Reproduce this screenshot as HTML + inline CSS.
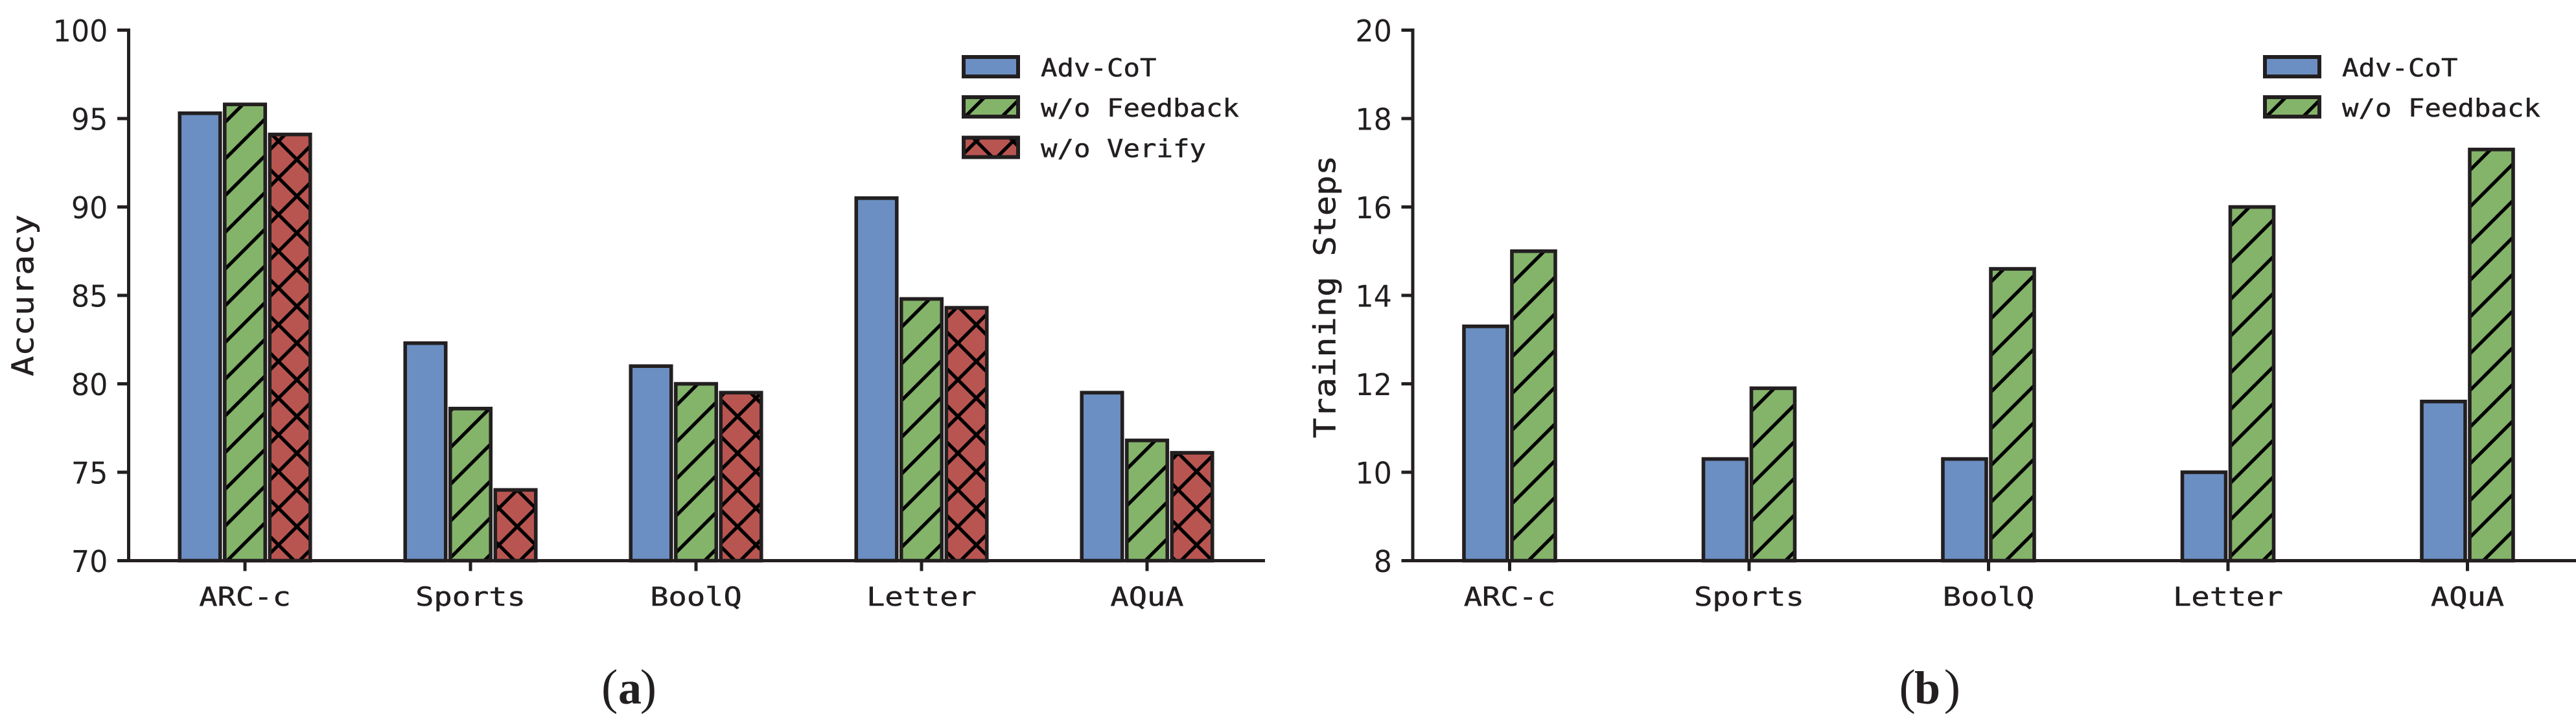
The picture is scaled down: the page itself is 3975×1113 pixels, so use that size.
<!DOCTYPE html>
<html lang="en">
<head>
<meta charset="utf-8">
<title>Adv-CoT accuracy and training steps</title>
<style>
html,body{margin:0;padding:0;background:#fff;width:3975px;height:1113px;overflow:hidden}
svg{display:block}
text{fill:#231f20}
.m{font-family:"DejaVu Sans Mono","Liberation Mono",monospace;stroke:#231f20;stroke-width:.5}
.d{font-family:"DejaVu Sans","Liberation Sans",sans-serif}
.s{font-family:"Liberation Serif",serif}
</style>
</head>
<body>
<svg id="fig" xmlns="http://www.w3.org/2000/svg" width="3975" height="1113" viewBox="0 0 3975 1113">
<defs>
<pattern id="hatch-slash-a" patternUnits="userSpaceOnUse" width="56.67" height="56.67" patternTransform="translate(26,0)">
<path d="M-5 5L5 -5M-5 61.67L61.67 -5M51.67 61.67L61.67 51.67" stroke="#000" stroke-width="5.3" fill="none"/>
</pattern>
<pattern id="hatch-slash-b" patternUnits="userSpaceOnUse" width="56.67" height="56.67" patternTransform="translate(50.5,0)">
<path d="M-5 5L5 -5M-5 61.67L61.67 -5M51.67 61.67L61.67 51.67" stroke="#000" stroke-width="5.3" fill="none"/>
</pattern>
<pattern id="hatch-cross" patternUnits="userSpaceOnUse" width="56.67" height="56.67" patternTransform="translate(24.3,0)">
<path d="M-5 5L5 -5M-5 61.67L61.67 -5M51.67 61.67L61.67 51.67" stroke="#000" stroke-width="5.3" fill="none"/>
</pattern>
<pattern id="hatch-back" patternUnits="userSpaceOnUse" width="56.67" height="56.67" patternTransform="translate(0,14.8)">
<path d="M-5 -5L61.67 61.67M-5 51.67L5 61.67M51.67 -5L61.67 5" stroke="#000" stroke-width="5.3" fill="none"/>
</pattern>
</defs>
<rect width="3975" height="1113" fill="#fff"/>
<text class="s" y="1086"><tspan x="928" font-size="76">(</tspan><tspan x="954" font-size="72" font-weight="bold">a</tspan><tspan x="987.7" font-size="76">)</tspan></text>
<text class="s" y="1086"><tspan x="2930.5" font-size="76">(</tspan><tspan x="2954" font-size="72" font-weight="bold">b</tspan><tspan x="2999.7" font-size="76">)</tspan></text>
</svg>
<script>
const categories = ['ARC-c', 'Sports', 'BoolQ', 'Letter', 'AQuA'];
const accuracyAdvCot = [95.3, 82.3, 81.0, 90.5, 79.5];
const accuracyNoFeedback = [95.8, 78.6, 80.0, 84.8, 76.8];
const accuracyNoVerify = [94.1, 74.0, 79.5, 84.3, 76.1];
const stepsAdvCot = [13.3, 10.3, 10.3, 10.0, 11.6];
const stepsNoFeedback = [15.0, 11.9, 14.6, 16.0, 17.3];
const accuracyTicks = [70, 75, 80, 85, 90, 95, 100];
const stepsTicks = [8, 10, 12, 14, 16, 18, 20];

const NS = 'http://www.w3.org/2000/svg';
const fig = document.getElementById('fig');
const EDGE = '#231f20';
const BLUE = '#6b8fc2';
const GREEN = '#84b36a';
const RED = '#b95551';
const TOP = 46.5, BASE = 865.5;

function el(tag, attrs, parent) {
  const e = document.createElementNS(NS, tag);
  for (const k in attrs) e.setAttribute(k, attrs[k]);
  (parent || fig).appendChild(e);
  return e;
}
function txt(content, attrs, parent, cls) {
  const e = el('text', attrs, parent);
  e.setAttribute('class', cls || 'm');
  e.textContent = content;
  return e;
}
function paintBox(g, x, y, w, h, color, kinds, sw) {
  const base = el('rect', {x: x, y: y, width: w, height: h, fill: color}, g);
  
  
  kinds.forEach(function (k) {
    const hatch = el('rect', {x: x, y: y, width: w, height: h, fill: 'url(#' + k + ')'}, g);
    
    
  });
  const edge = el('rect', {x: x, y: y, width: w, height: h, fill: 'none', stroke: EDGE, 'stroke-width': sw}, g);
  
  
}

function drawPanel(cfg) {
  const panel = el('g', {});
  
  

  const yScale = function (v) { return BASE - (v - cfg.ticks[0]) / (cfg.ticks[cfg.ticks.length - 1] - cfg.ticks[0]) * (BASE - TOP); };
  const xScale = function (i) { return cfg.x0 + i * cfg.step; };
  const n = cfg.series.length;

  cfg.series.forEach(function (s, j) {
    s.values.forEach(function (v, i) {
      const g = el('g', {}, panel);
      
      
      const cx = xScale(i) + (j - (n - 1) / 2) * cfg.pitch;
      const y = yScale(v);
      paintBox(g, cx - cfg.width / 2, y, cfg.width, BASE - y, s.color, s.hatch, 5.6);
    });
  });

  const yAxis = el('line', {x1: cfg.spine, x2: cfg.spine, y1: TOP - 2.5, y2: BASE + 2.5, stroke: EDGE, 'stroke-width': 5}, panel);
  
  
  const xAxis = el('line', {x1: cfg.spine - 17.5, x2: cfg.right, y1: BASE, y2: BASE, stroke: EDGE, 'stroke-width': 5}, panel);
  
  

  cfg.ticks.forEach(function (t) {
    const y = yScale(t);
    const tick = el('line', {x1: cfg.spine - 17.5, x2: cfg.spine, y1: y, y2: y, stroke: EDGE, 'stroke-width': 5}, panel);
    
    
    const s = String(t);
    const label = txt(s, {x: cfg.spine - 32, y: y + 17.5, 'font-size': 46, 'text-anchor': 'end', textLength: s.length * 28.3, lengthAdjust: 'spacingAndGlyphs'}, panel, 'd');
    
    
  });

  categories.forEach(function (c, i) {
    const x = xScale(i);
    const tick = el('line', {x1: x, x2: x, y1: BASE, y2: BASE + 16, stroke: EDGE, 'stroke-width': 5}, panel);
    
    
    const label = txt(c, {x: x, y: 935, 'font-size': 40, 'text-anchor': 'middle', textLength: c.length * 28.3, lengthAdjust: 'spacingAndGlyphs'}, panel);
    
    
  });

  const title = txt(cfg.title, {x: cfg.titleX, y: cfg.titleY, 'font-size': 46, 'text-anchor': 'middle', textLength: cfg.title.length * 31.2, lengthAdjust: 'spacingAndGlyphs', transform: 'rotate(-90 ' + cfg.titleX + ' ' + cfg.titleY + ')'}, panel);
  
  

  const legendTops = [88, 150, 212.5];
  cfg.series.forEach(function (s, j) {
    const g = el('g', {}, panel);
    
    
    paintBox(g, cfg.legendX, legendTops[j], 84, 30, s.color, s.hatch, 6);
    const label = txt(s.label, {x: cfg.legendX + 119, y: legendTops[j] + 30.2, 'font-size': 38, textLength: s.label.length * 25.5, lengthAdjust: 'spacingAndGlyphs'}, g);
    
    
  });
}

drawPanel({
  name: 'accuracy-panel', title: 'Accuracy', titleX: 51.5, titleY: 456,
  ticks: accuracyTicks, spine: 198.5, right: 1952,
  x0: 378, step: 348, width: 62.5, pitch: 69.5, legendX: 1487,
  series: [
    {key: 'adv-cot', label: 'Adv-CoT', values: accuracyAdvCot, color: BLUE, hatch: []},
    {key: 'no-feedback', label: 'w/o Feedback', values: accuracyNoFeedback, color: GREEN, hatch: ['hatch-slash-a']},
    {key: 'no-verify', label: 'w/o Verify', values: accuracyNoVerify, color: RED, hatch: ['hatch-cross', 'hatch-back']}
  ]
});
drawPanel({
  name: 'training-steps-panel', title: 'Training Steps', titleX: 2060.5, titleY: 458,
  ticks: stepsTicks, spine: 2180, right: 3975,
  x0: 2329.5, step: 369.5, width: 67, pitch: 74, legendX: 3495,
  series: [
    {key: 'adv-cot', label: 'Adv-CoT', values: stepsAdvCot, color: BLUE, hatch: []},
    {key: 'no-feedback', label: 'w/o Feedback', values: stepsNoFeedback, color: GREEN, hatch: ['hatch-slash-b']}
  ]
});
</script>
</body>
</html>
